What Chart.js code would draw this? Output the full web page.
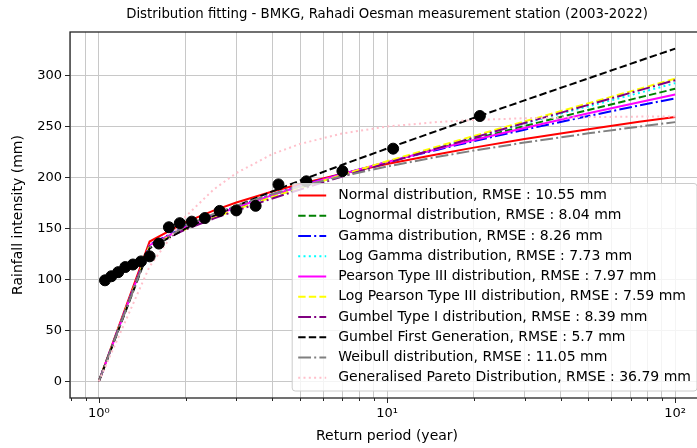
<!DOCTYPE html>
<html>
<head>
<meta charset="utf-8">
<script src="https://cdn.jsdelivr.net/npm/chart.js@4.4.1/dist/chart.umd.min.js"></script>
<style>
  html, body { margin: 0; padding: 0; overflow: hidden; background: #fff; }
</style>
</head>
<body>
<canvas id="myChart" width="712" height="448"></canvas>
<script>
'use strict';

// Global Variable

let chartTitle = 'Distribution fitting - BMKG, Rahadi Oesman measurement station (2003-2022)';
let xTitle = 'Return period (year)';
let yTitle = 'Rainfall intensity (mm)';

// observed annual maxima, plotted at their return period
let observedPeriods = [1.05, 1.105, 1.167, 1.235, 1.313, 1.4, 1.5, 1.615, 1.75, 1.909, 2.1, 2.333, 2.625, 3, 3.5, 4.2, 5.25, 7, 10.5, 21];
let observedValues = [99, 103, 107, 112, 114.5, 117.5, 122.5, 135, 151, 155, 156.5, 160, 167, 167.5, 172, 193, 196, 206, 228, 260];

// fitted curves, read at these return periods
let returnPeriods = [1, 1.5, 2, 2.5, 3, 4, 5, 7, 10, 15, 20, 30, 50, 75, 100];
let normalValues = [0, 137, 156.1, 167.3, 175.2, 186, 193.4, 203.4, 212.9, 222.6, 229, 237.4, 247, 254.3, 259];
let lognormalValues = [0, 133.5, 150.5, 161.4, 169.6, 181.4, 190, 202.3, 214.7, 228.1, 237.4, 250.2, 265.9, 278.1, 286.7];
let gammaValues = [0, 133.9, 151.9, 163.2, 171.5, 183.2, 191.6, 203.3, 214.8, 227, 235.4, 246.6, 260, 270.3, 277.3];
let logGammaValues = [0, 133.1, 149.8, 160.8, 169, 181, 189.7, 202.4, 215.2, 229.2, 239.1, 252.7, 269.5, 282.6, 292.2];
let pearsonValues = [0, 133.4, 151.1, 162.3, 170.6, 182.5, 191.1, 203.1, 215, 227.8, 236.5, 248.3, 262.6, 273.5, 281.1];
let logPearsonValues = [0, 132.7, 149.3, 160.2, 168.4, 180.6, 189.5, 202.4, 215.6, 230.2, 240.4, 254.7, 272.5, 286.5, 296.6];
let gumbelValues = [0, 132.9, 148.8, 159.4, 167.3, 179.2, 188, 200.7, 213.9, 228.5, 238.8, 253.1, 270.9, 285.1, 295.1];
let gumbelFirstValues = [0, 130.4, 149.6, 162.3, 171.9, 186.2, 196.8, 212.2, 228.1, 245.7, 258.1, 275.3, 296.9, 314, 326];
let weibullValues = [0, 131.4, 152, 164, 172.2, 183.5, 191, 201.1, 210.5, 220, 226.1, 234, 243, 249.6, 254];
let paretoValues = [0, 112.6, 161.5, 187.9, 204.1, 222.7, 232.7, 242.9, 249.7, 254.1, 256.1, 257.8, 258.9, 259.4, 259.6];

let curveNames = [
  'Normal distribution, RMSE : 10.55 mm',
  'Lognormal distribution, RMSE : 8.04 mm',
  'Gamma distribution, RMSE : 8.26 mm',
  'Log Gamma distribution, RMSE : 7.73 mm',
  'Pearson Type III distribution, RMSE : 7.97 mm',
  'Log Pearson Type III distribution, RMSE : 7.59 mm',
  'Gumbel Type I distribution, RMSE : 8.39 mm',
  'Gumbel First Generation, RMSE : 5.7 mm',
  'Weibull distribution, RMSE : 11.05 mm',
  'Generalised Pareto Distribution, RMSE : 36.79 mm'
];

// axis ticks
let decadeTicks = [1, 10, 100];
let decadeLabels = ['10\u2070', '10\u00b9', '10\u00b2'];
let minorTicks = [0.8, 0.9, 2, 3, 4, 5, 6, 7, 8, 9, 20, 30, 40, 50, 60, 70, 80, 90];
let yTicks = [0, 50, 100, 150, 200, 250, 300];

// line styles
let solid = [];
let dashed = [7.4, 3.2];
let dashDot = [12.8, 3.2, 2, 3.2];
let dotted = [2, 3.3];

Chart.defaults.font.family = "'DejaVu Sans', sans-serif";
Chart.defaults.font.size = 13;
Chart.defaults.color = '#000';

//Helper Functions

function makeCurve(index, values, color, dash) {
  return {
    label: curveNames[index],
    data: returnPeriods.map((t, i) => ({x: t, y: values[i]})),
    borderColor: color,
    backgroundColor: color,
    borderWidth: 2,
    borderDash: dash,
    showLine: true,
    pointRadius: 0,
    pointHoverRadius: 0,
    order: 10 - index
  };
}

function drawFrameAndTicks(chart) {
  let ctx = chart.ctx;
  let area = chart.chartArea;
  let xScale = chart.scales.x;
  let yScale = chart.scales.y;
  ctx.save();
  ctx.strokeStyle = '#262626';
  ctx.lineWidth = 1;
  ctx.beginPath();
  xScale.ticks.forEach(tick => {
    let px = Math.round(xScale.getPixelForValue(tick.value)) + 0.5;
    let len = decadeTicks.includes(tick.value) ? 5 : 3;
    ctx.moveTo(px, area.bottom);
    ctx.lineTo(px, area.bottom + len);
  });
  yScale.ticks.forEach(tick => {
    let py = Math.round(yScale.getPixelForValue(tick.value)) + 0.5;
    ctx.moveTo(area.left - 5, py);
    ctx.lineTo(area.left, py);
  });
  ctx.stroke();
  ctx.lineWidth = 1.3;
  ctx.strokeRect(area.left, area.top, area.right - area.left, area.bottom - area.top);
  ctx.fillStyle = '#000';
  ctx.font = "13.3px 'DejaVu Sans'";
  ctx.textAlign = 'center';
  ctx.textBaseline = 'middle';
  ctx.fillText(chartTitle, (area.left + area.right) / 2, 15);
  ctx.restore();
}

function drawLegend(chart) {
  let ctx = chart.ctx;
  let area = chart.chartArea;
  let rowH = 20.25;
  let curves = chart.data.datasets.filter(ds => ds.showLine);
  ctx.save();
  ctx.font = "14px 'DejaVu Sans'";
  let maxW = 0;
  curves.forEach(ds => { maxW = Math.max(maxW, ctx.measureText(ds.label).width); });
  let right = area.right - 7;
  let bottom = area.bottom - 7;
  let left = right - (6 + 28 + 12 + maxW + 6);
  let top = bottom - rowH * curves.length - 5;
  let r = 3;
  ctx.beginPath();
  ctx.moveTo(left + r, top);
  ctx.arcTo(right, top, right, bottom, r);
  ctx.arcTo(right, bottom, left, bottom, r);
  ctx.arcTo(left, bottom, left, top, r);
  ctx.arcTo(left, top, right, top, r);
  ctx.closePath();
  ctx.fillStyle = 'rgba(255,255,255,0.8)';
  ctx.fill();
  ctx.strokeStyle = '#cccccc';
  ctx.lineWidth = 1;
  ctx.stroke();
  curves.forEach((ds, i) => {
    let y = top + 12 + i * rowH;
    ctx.strokeStyle = ds.borderColor;
    ctx.lineWidth = ds.borderWidth;
    ctx.setLineDash(ds.borderDash);
    ctx.beginPath();
    ctx.moveTo(left + 6, y);
    ctx.lineTo(left + 34, y);
    ctx.stroke();
    ctx.setLineDash([]);
    ctx.fillStyle = '#000';
    ctx.textAlign = 'left';
    ctx.textBaseline = 'middle';
    ctx.fillText(ds.label, left + 46, y);
  });
  ctx.restore();
}

let extrasPlugin = {
  id: 'extras',
  afterDatasetsDraw(chart) {
    drawFrameAndTicks(chart);
    drawLegend(chart);
  }
};

//Chart

let observed = {
  label: 'Observed',
  data: observedPeriods.map((t, i) => ({x: t, y: observedValues[i]})),
  showLine: false,
  pointRadius: 5.5,
  pointHoverRadius: 5.5,
  pointBackgroundColor: '#000',
  pointBorderColor: '#000',
  order: 0
};

let ctx = document.getElementById('myChart').getContext('2d');
const myChart = new Chart(ctx, {
  type: 'scatter',
  data: {
    datasets: [
      observed,
      makeCurve(0, normalValues, '#ff0000', solid),
      makeCurve(1, lognormalValues, '#008000', dashed),
      makeCurve(2, gammaValues, '#0000ff', dashDot),
      makeCurve(3, logGammaValues, '#00ffff', dotted),
      makeCurve(4, pearsonValues, '#ff00ff', solid),
      makeCurve(5, logPearsonValues, '#ffff00', dashed),
      makeCurve(6, gumbelValues, '#800080', dashDot),
      makeCurve(7, gumbelFirstValues, '#000000', dashed),
      makeCurve(8, weibullValues, '#808080', dashDot),
      makeCurve(9, paretoValues, '#ffc0cb', dotted)
    ]
  },
  options: {
    responsive: false,
    animation: false,
    layout: { padding: { top: 32, right: 8, left: 0, bottom: 0 } },
    plugins: {
      legend: { display: false },
      tooltip: { enabled: false }
    },
    scales: {
      x: {
        type: 'logarithmic',
        min: 0.794,
        max: 125.9,
        afterBuildTicks: axis => {
          axis.ticks = decadeTicks.concat(minorTicks).sort((a, b) => a - b).map(v => ({value: v}));
        },
        afterFit: axis => { axis.height = 50; },
        ticks: {
          autoSkip: false,
          maxRotation: 0,
          padding: 8,
          callback: value => {
            let i = decadeTicks.indexOf(value);
            return i >= 0 ? decadeLabels[i] : '';
          }
        },
        grid: { color: '#c8c8c8', lineWidth: 1, drawTicks: false },
        border: { display: false },
        title: { display: true, text: xTitle, font: { size: 14 }, padding: { top: 0, bottom: 3 } }
      },
      y: {
        min: -16.3,
        max: 342.3,
        afterBuildTicks: axis => {
          axis.ticks = yTicks.map(v => ({value: v}));
        },
        afterFit: axis => { axis.width = 70; },
        ticks: { autoSkip: false, padding: 8 },
        grid: { color: '#c8c8c8', lineWidth: 1, drawTicks: false },
        border: { display: false },
        title: { display: true, text: yTitle, font: { size: 14 }, padding: { top: 9.5, bottom: 0 } }
      }
    }
  },
  plugins: [extrasPlugin]
});
</script>
</body>
</html>
